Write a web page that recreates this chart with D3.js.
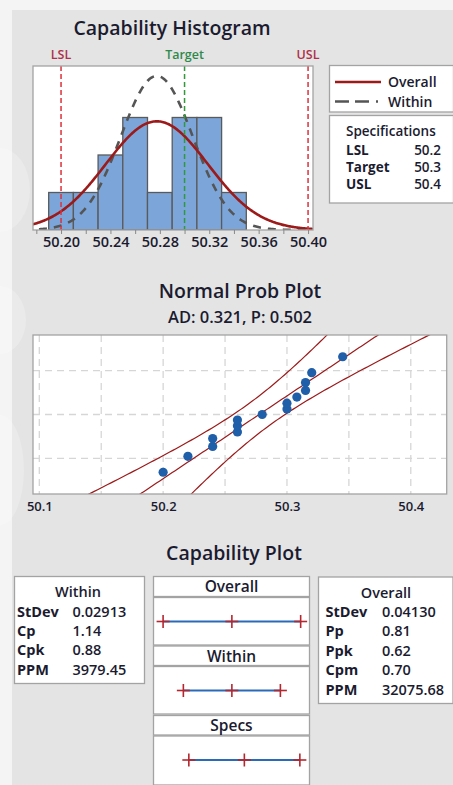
<!DOCTYPE html>
<html><head><meta charset="utf-8">
<script src="https://cdn.jsdelivr.net/npm/d3@7"></script>
<style>
body{margin:0;background:#f3f3f3;}
text{font-family:"Open Sans","Noto Sans",sans-serif;fill:#1b1b30;}
</style></head>
<body>
<svg id="chart" width="453" height="785"></svg>
<script>
// ---------- DATA ----------
const measurements = [50.20, 50.22, 50.24, 50.24, 50.26, 50.26, 50.26, 50.28, 50.30, 50.30, 50.308, 50.315, 50.315, 50.32, 50.345];
const binStarts = [50.19, 50.21, 50.23, 50.25, 50.27, 50.29, 50.31, 50.33];
const binCounts = [1, 1, 2, 3, 1, 3, 3, 1];
const binWidth = 0.02;
const specLabels = ["LSL", "Target", "USL"];
const specValues = [50.2, 50.3, 50.4];
const histTickLabels = [50.20, 50.24, 50.28, 50.32, 50.36, 50.40];
const histMinorTicks = [50.18, 50.22, 50.26, 50.30, 50.34, 50.38];
const probTickLabels = [50.1, 50.2, 50.3, 50.4];
const probGridX = [50.1, 50.15, 50.2, 50.25, 50.3, 50.35, 50.4];
const probGridPct = [10, 50, 90];
const adText = "AD: 0.321, P: 0.502";
const withinLabels = ["StDev", "Cp", "Cpk", "PPM"];
const withinValues = ["0.02913", "1.14", "0.88", "3979.45"];
const overallLabels = ["StDev", "Pp", "Ppk", "Cpm", "PPM"];
const overallValues = ["0.04130", "0.81", "0.62", "0.70", "32075.68"];
const sdWithin = 0.02913;
const sdOverall = 0.04130;

// ---------- helpers ----------
function normInv(p){
  const a=[-3.969683028665376e+01,2.209460984245205e+02,-2.759285104469687e+02,1.383577518672690e+02,-3.066479806614716e+01,2.506628277459239e+00];
  const b=[-5.447609879822406e+01,1.615858368580409e+02,-1.556989798598866e+02,6.680131188771972e+01,-1.328068155288572e+01];
  const c=[-7.784894002430293e-03,-3.223964580411365e-01,-2.400758277161838e+00,-2.549732539343734e+00,4.374664141464968e+00,2.938163982698783e+00];
  const d=[7.784695709041462e-03,3.224671290700398e-01,2.445134137142996e+00,3.754408661907416e+00];
  const pl=0.02425, ph=1-pl;
  let q,r;
  if(p<pl){q=Math.sqrt(-2*Math.log(p));return (((((c[0]*q+c[1])*q+c[2])*q+c[3])*q+c[4])*q+c[5])/((((d[0]*q+d[1])*q+d[2])*q+d[3])*q+1);}
  if(p<=ph){q=p-0.5;r=q*q;return (((((a[0]*r+a[1])*r+a[2])*r+a[3])*r+a[4])*r+a[5])*q/(((((b[0]*r+b[1])*r+b[2])*r+b[3])*r+b[4])*r+1);}
  q=Math.sqrt(-2*Math.log(1-p));return -(((((c[0]*q+c[1])*q+c[2])*q+c[3])*q+c[4])*q+c[5])/((((d[0]*q+d[1])*q+d[2])*q+d[3])*q+1);
}
const pdf=(x,m,s)=>Math.exp(-0.5*((x-m)/s)**2)/(s*Math.sqrt(2*Math.PI));

const n = measurements.length;
const mean = d3.mean(measurements);

const svg = d3.select("#chart");
const BORDER="#a3a3a3", DARKRED="#9c1a1a", BLUE="#2a6ab8";

// background
svg.append("rect").attr("x",0).attr("y",0).attr("width",453).attr("height",785).attr("fill","#f4f4f4");
svg.append("rect").attr("x",12).attr("y",10).attr("width",441).attr("height",775).attr("fill","#e4e4e4");
// faint watermark shapes
const wm = svg.append("g").attr("fill","#ffffff").attr("opacity",0.22);
wm.append("ellipse").attr("cx",0).attr("cy",190).attr("rx",30).attr("ry",42);
wm.append("ellipse").attr("cx",0).attr("cy",320).attr("rx",26).attr("ry",34);
wm.append("ellipse").attr("cx",0).attr("cy",470).attr("rx",24).attr("ry",55);

const defs = svg.append("defs");

// ================= HISTOGRAM =================
const hx = d3.scaleLinear().domain([50.1773, 50.404]).range([33, 313]);
const hy = d3.scaleLinear().domain([0, 4.373]).range([230, 66]);
defs.append("clipPath").attr("id","hclip").append("rect")
  .attr("x",33).attr("y",66).attr("width",280).attr("height",164);

svg.append("text").attr("x",172).attr("y",35).attr("text-anchor","middle")
  .attr("font-size",19.5).attr("font-weight",600).text("Capability Histogram");

svg.append("rect").attr("x",33).attr("y",66).attr("width",280).attr("height",164)
  .attr("fill","#ffffff");

const hg = svg.append("g").attr("clip-path","url(#hclip)");
hg.selectAll("rect.bar").data(binStarts).join("rect").attr("class","bar")
  .attr("x",d=>hx(d)).attr("width",d=>hx(d+binWidth)-hx(d))
  .attr("y",(d,i)=>hy(binCounts[i])).attr("height",(d,i)=>hy(0)-hy(binCounts[i]))
  .attr("fill","#7ca6da").attr("stroke","#5a5a5a").attr("stroke-width",1.3);

// spec lines
const specColors = ["#e0303a","#2f9a3a","#e0303a"];
const specTextColors = ["#b0304a","#2f8a4a","#b0304a"];
specValues.forEach((v,i)=>{
  svg.append("line").attr("x1",hx(v)).attr("x2",hx(v)).attr("y1",66).attr("y2",230)
    .attr("stroke",specColors[i]).attr("stroke-width",1.5).attr("stroke-dasharray","5,3");
  svg.append("text").attr("x",hx(v)).attr("y",58.5).attr("text-anchor","middle")
    .attr("font-size",12.5).attr("font-weight",600).style("fill",specTextColors[i]).text(specLabels[i]);
});

const xs = d3.range(0,301).map(i=>50.17+i*(50.41-50.17)/300);
const scaleK = n*binWidth;
hg.append("path").datum(xs)
  .attr("d",d3.line().x(x=>hx(x)).y(x=>hy(scaleK*pdf(x,mean,sdWithin))))
  .attr("fill","none").attr("stroke","#555555").attr("stroke-width",2.6).attr("stroke-dasharray","8,7");
hg.append("path").datum(xs)
  .attr("d",d3.line().x(x=>hx(x)).y(x=>hy(scaleK*pdf(x,mean,sdOverall))))
  .attr("fill","none").attr("stroke",DARKRED).attr("stroke-width",2.6);

svg.append("rect").attr("x",33).attr("y",66).attr("width",280).attr("height",164)
  .attr("fill","none").attr("stroke",BORDER).attr("stroke-width",1.3);

const hAxis = svg.append("g").attr("transform","translate(0,230)")
  .call(d3.axisBottom(hx).tickValues(histTickLabels).tickFormat(d3.format(".2f")).tickSize(4).tickPadding(3));
svg.append("g").attr("transform","translate(0,230)")
  .call(d3.axisBottom(hx).tickValues(histMinorTicks).tickFormat("").tickSize(4))
  .call(g=>g.select(".domain").remove()).selectAll("line").attr("stroke","#888");
hAxis.select(".domain").remove();
hAxis.selectAll("line").attr("stroke","#888");
hAxis.selectAll("text").attr("font-size",14.5).attr("font-weight",600).style("fill","#1b1b30");

// legend
svg.append("rect").attr("x",329.5).attr("y",65.5).attr("width",124).attr("height",46.5)
  .attr("fill","#fff").attr("stroke",BORDER).attr("stroke-width",1.3);
svg.append("line").attr("x1",335).attr("x2",381).attr("y1",82).attr("y2",82)
  .attr("stroke",DARKRED).attr("stroke-width",2.6);
svg.append("text").attr("x",388).attr("y",87).attr("font-size",14).attr("font-weight",600).text("Overall");
svg.append("line").attr("x1",335).attr("x2",386).attr("y1",101.5).attr("y2",101.5)
  .attr("stroke","#555").attr("stroke-width",2.6).attr("stroke-dasharray","14,6,14,7,2,60");
svg.append("text").attr("x",388).attr("y",106.5).attr("font-size",14).attr("font-weight",600).text("Within");

svg.append("rect").attr("x",329.5).attr("y",115.5).attr("width",124).attr("height",87.5)
  .attr("fill","#fff").attr("stroke",BORDER).attr("stroke-width",1.3);
svg.append("text").attr("x",346).attr("y",136).attr("font-size",13.5).attr("font-weight",600).text("Specifications");
specLabels.forEach((l,i)=>{
  const y = 155 + i*17;
  svg.append("text").attr("x",346).attr("y",y).attr("font-size",13.5).attr("font-weight",700).text(l);
  svg.append("text").attr("x",441).attr("y",y).attr("text-anchor","end").attr("font-size",13.5).attr("font-weight",600).text(specValues[i].toFixed(1));
});

// ================= NORMAL PROB PLOT =================
const px = d3.scaleLinear().domain([50.0949, 50.429]).range([33, 446.7]);
const zTop = normInv(0.99);
const py = d3.scaleLinear().domain([-zTop, zTop]).range([494, 335]);
defs.append("clipPath").attr("id","pclip").append("rect")
  .attr("x",33).attr("y",335).attr("width",413.7).attr("height",159);

svg.append("text").attr("x",240).attr("y",298).attr("text-anchor","middle")
  .attr("font-size",19.5).attr("font-weight",600).text("Normal Prob Plot");
svg.append("text").attr("x",240).attr("y",322.5).attr("text-anchor","middle")
  .attr("font-size",16.5).attr("font-weight",600).text(adText);

svg.append("rect").attr("x",33).attr("y",335).attr("width",413.7).attr("height",159).attr("fill","#fff");
const pg = svg.append("g").attr("clip-path","url(#pclip)");
pg.selectAll("line.gx").data(probGridX).join("line").attr("class","gx")
  .attr("x1",d=>px(d)).attr("x2",d=>px(d)).attr("y1",335).attr("y2",494)
  .attr("stroke","#d6d6d6").attr("stroke-width",1.3).attr("stroke-dasharray","7,5");
pg.selectAll("line.gy").data(probGridPct).join("line").attr("class","gy")
  .attr("x1",33).attr("x2",446.7).attr("y1",d=>py(normInv(d/100))).attr("y2",d=>py(normInv(d/100)))
  .attr("stroke","#d6d6d6").attr("stroke-width",1.3).attr("stroke-dasharray","7,5");

const zs = d3.range(0,161).map(i=>-4+i*0.05);
const half = z=>1.96*sdOverall*Math.sqrt(1/n + z*z/(2*(n-1)));
const bandLine = d3.line().x(d=>px(d[0])).y(d=>py(d[1]));
[ z=>mean+z*sdOverall-half(z), z=>mean+z*sdOverall, z=>mean+z*sdOverall+half(z) ].forEach(f=>{
  pg.append("path").datum(zs.map(z=>[f(z),z])).attr("d",bandLine)
    .attr("fill","none").attr("stroke",DARKRED).attr("stroke-width",1.2);
});
const sorted = measurements.slice().sort(d3.ascending);
pg.selectAll("circle").data(sorted).join("circle")
  .attr("cx",d=>px(d)).attr("cy",(d,i)=>py(normInv((i+1-0.3)/(n+0.4))))
  .attr("r",4.6).attr("fill","#1f5ea8");

svg.append("rect").attr("x",33).attr("y",335).attr("width",413.7).attr("height",159)
  .attr("fill","none").attr("stroke",BORDER).attr("stroke-width",1.3);
const pAxis = svg.append("g").attr("transform","translate(0,494)")
  .call(d3.axisBottom(px).tickValues(probTickLabels).tickFormat(d3.format(".1f")).tickSize(0).tickPadding(8));
pAxis.select(".domain").remove();
pAxis.selectAll("text").attr("font-size",13).attr("font-weight",600).style("fill","#1b1b30");

// ================= CAPABILITY PLOT =================
svg.append("text").attr("x",234).attr("y",560).attr("text-anchor","middle")
  .attr("font-size",19.5).attr("font-weight",600).text("Capability Plot");

function statBox(x,y,w,h,title,labels,values,titleX,labX,valX){
  svg.append("rect").attr("x",x).attr("y",y).attr("width",w).attr("height",h)
    .attr("fill","#fff").attr("stroke",BORDER).attr("stroke-width",1.3);
  svg.append("text").attr("x",titleX).attr("y",y+20.5).attr("text-anchor","middle")
    .attr("font-size",14.5).attr("font-weight",600).text(title);
  labels.forEach((l,i)=>{
    const yy = y+40+i*19.4;
    svg.append("text").attr("x",labX).attr("y",yy).attr("font-size",14.5).attr("font-weight",700).text(l);
    svg.append("text").attr("x",valX).attr("y",yy).attr("font-size",14.5).attr("font-weight",600).text(values[i]);
  });
}
statBox(14.5,576.5,130,107,"Within",withinLabels,withinValues,78,17,72.5);
statBox(318.5,577,134.5,126.5,"Overall",overallLabels,overallValues,386,325.5,382);

const cx = d3.scaleLinear().domain([50.136, 50.417]).range([153.3, 309.3]);
const rows = [
  {name:"Overall", vals:[mean-3*sdOverall, mean, mean+3*sdOverall], hy:576.5, cy:597.5, ch:47.5},
  {name:"Within",  vals:[mean-3*sdWithin,  mean, mean+3*sdWithin],  hy:646,   cy:666.5, ch:47.5},
  {name:"Specs",   vals:specValues,                                  hy:715.5, cy:736,   ch:49}
];
rows.forEach(r=>{
  svg.append("rect").attr("x",153.5).attr("y",r.hy).attr("width",156).attr("height",r.cy-r.hy-1)
    .attr("fill","#fff").attr("stroke",BORDER).attr("stroke-width",1.3);
  svg.append("text").attr("x",231.5).attr("y",r.hy+15.5).attr("text-anchor","middle")
    .attr("font-size",15.5).attr("font-weight",600).text(r.name);
  svg.append("rect").attr("x",153.5).attr("y",r.cy).attr("width",156).attr("height",r.ch)
    .attr("fill","#fff").attr("stroke",BORDER).attr("stroke-width",1.3);
  const ly = r.cy + 24;
  svg.append("line").attr("x1",cx(r.vals[0])).attr("x2",cx(r.vals[2])).attr("y1",ly).attr("y2",ly)
    .attr("stroke",BLUE).attr("stroke-width",1.8);
  r.vals.forEach(v=>{
    svg.append("line").attr("x1",cx(v)-6.5).attr("x2",cx(v)+6.5).attr("y1",ly).attr("y2",ly)
      .attr("stroke","#b5262e").attr("stroke-width",1.6);
    svg.append("line").attr("x1",cx(v)).attr("x2",cx(v)).attr("y1",ly-6.5).attr("y2",ly+6.5)
      .attr("stroke","#b5262e").attr("stroke-width",1.6);
  });
});
</script>
</body></html>
